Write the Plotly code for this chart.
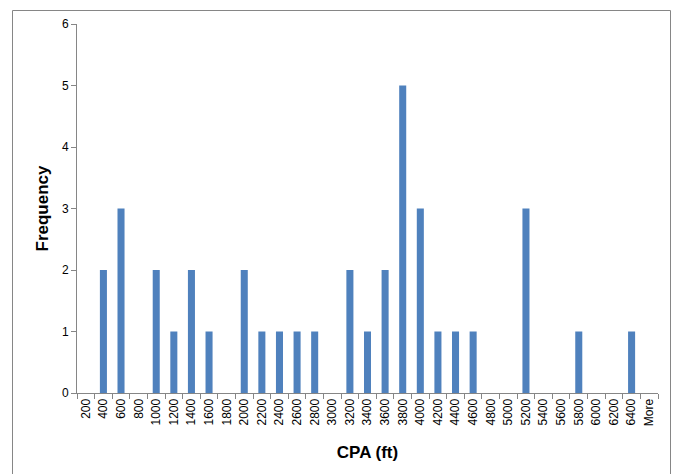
import plotly.graph_objects as go

bins = ["200", "400", "600", "800", "1000", "1200", "1400", "1600", "1800", "2000",
        "2200", "2400", "2600", "2800", "3000", "3200", "3400", "3600", "3800", "4000",
        "4200", "4400", "4600", "4800", "5000", "5200", "5400", "5600", "5800", "6000",
        "6200", "6400", "More"]
frequency = [0, 2, 3, 0, 2, 1, 2, 1, 0, 2,
             1, 1, 1, 1, 0, 2, 1, 2, 5, 3,
             1, 1, 1, 0, 0, 3, 0, 0, 1, 0,
             0, 1, 0]

W, H = 675, 474
L, R, T, B = 77, 17, 24, 81
pw, ph = W - L - R, H - T - B

fig = go.Figure(go.Bar(x=bins, y=frequency, marker_color="#4F81BD",
                       marker_line_width=0))

fx = lambda px: (px - L) / pw
fy = lambda py: (T + ph - py) / ph
border = dict(color="#868686", width=1)

fig.update_layout(
    width=W, height=H,
    margin=dict(l=L, r=R, t=T, b=B, autoexpand=False),
    plot_bgcolor="white", paper_bgcolor="white",
    bargap=0.6,
    showlegend=False,
    font=dict(family="Liberation Sans, Arial, sans-serif", color="#000000"),
    xaxis=dict(
        type="category", tickangle=-90, tickfont=dict(size=12),
        showline=True, linecolor="#868686", linewidth=1,
        ticks="outside", ticklen=5, tickcolor="#868686", tickson="boundaries",
        showgrid=False, zeroline=False, automargin=False,
        title=dict(text="<b>CPA (ft)</b>", font=dict(size=17), standoff=20),
    ),
    yaxis=dict(
        range=[0, 6], dtick=1, tickfont=dict(size=12),
        showline=True, linecolor="#868686", linewidth=1,
        ticks="outside", ticklen=5, tickcolor="#868686",
        showgrid=False, zeroline=False, automargin=False,
        title=dict(text="<b>Frequency</b>", font=dict(size=17), standoff=8),
    ),
    shapes=[
        dict(type="line", xref="paper", yref="paper", x0=fx(12.5), x1=fx(670.5),
             y0=fy(10.5), y1=fy(10.5), line=border),
        dict(type="line", xref="paper", yref="paper", x0=fx(12.5), x1=fx(12.5),
             y0=fy(10.5), y1=fy(480), line=border),
        dict(type="line", xref="paper", yref="paper", x0=fx(670.5), x1=fx(670.5),
             y0=fy(10.5), y1=fy(480), line=border),
    ],
)

fig.write_html("out.html", config={"displayModeBar": False},
               post_script="document.body.style.margin='0';document.body.style.overflow='hidden';")
